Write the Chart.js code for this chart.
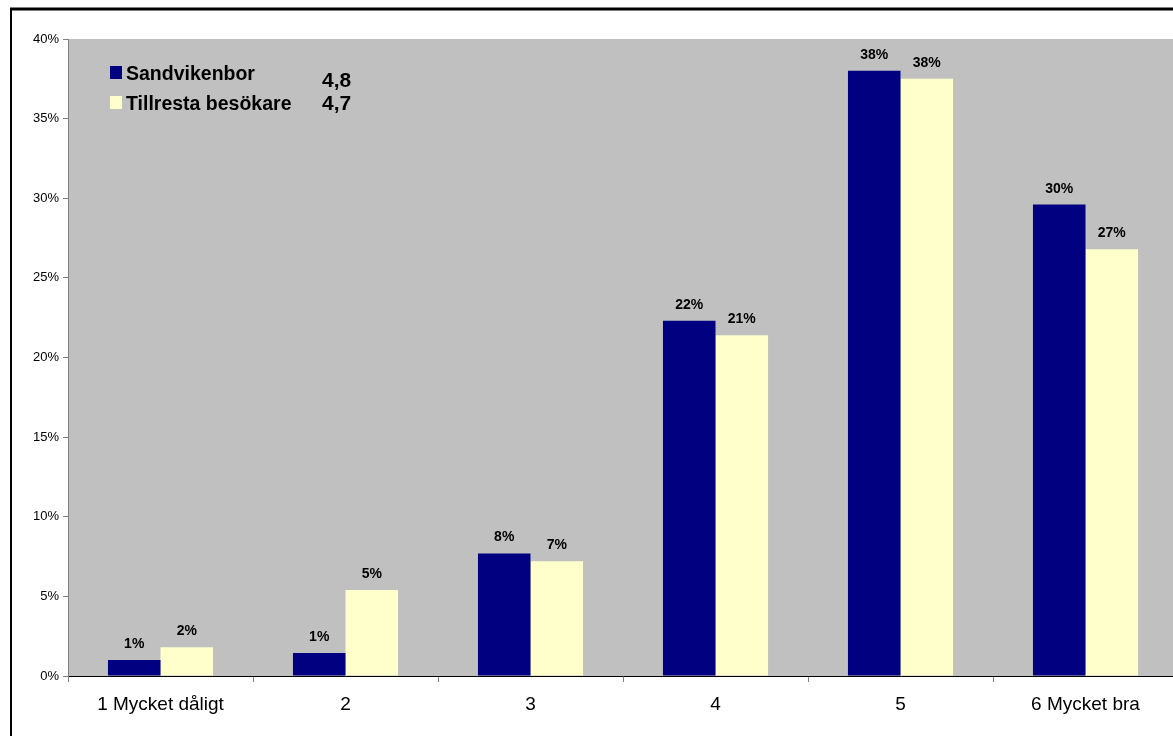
<!DOCTYPE html>
<html lang="sv">
<head>
<meta charset="utf-8">
<title>Sandvikenbor och tillresta besökare</title>
<script src="https://cdn.jsdelivr.net/npm/chart.js@4.4.1/dist/chart.umd.min.js"></script>
<style>
    html, body { margin: 0; padding: 0; background: #fff; overflow: hidden; }
    #wrap { position: absolute; left: 0; top: 0; width: 1178px; height: 736px; }
</style>
</head>
<body>
<div id="wrap"><canvas id="chart" width="1178" height="736"></canvas></div>
<script>
// Data (percent)
const categories = ['1 Mycket dåligt', '2', '3', '4', '5', '6 Mycket bra'];
const sandvikenbor = [1.0, 1.45, 7.7, 22.3, 38.0, 29.6];
const tillresta = [1.8, 5.4, 7.2, 21.4, 37.5, 26.8];
const seriesNames = ['Sandvikenbor', 'Tillresta besökare'];
const seriesMeans = ['4,8', '4,7'];
const yMax = 40;
const yStep = 5;

const FONT = '"Liberation Sans", Arial, sans-serif';

// gray plot background + outer frame
const frame = {
    id: 'frame',
    beforeDraw(chart) {
        const { ctx, chartArea: a } = chart;
        ctx.save();
        ctx.fillStyle = '#c0c0c0';
        ctx.fillRect(a.left, a.top, a.right - a.left, a.bottom - a.top);
        ctx.restore();
    },
    afterDraw(chart) {
        const { ctx, width, height } = chart;
        ctx.save();
        ctx.strokeStyle = '#000';
        ctx.lineWidth = 3;
        ctx.beginPath();
        ctx.moveTo(10, 9);
        ctx.lineTo(width, 9);
        ctx.stroke();
        ctx.lineWidth = 2;
        ctx.beginPath();
        ctx.moveTo(11, 9);
        ctx.lineTo(11, height);
        ctx.stroke();
        ctx.restore();
    }
};

// value labels above each bar
const barLabels = {
    id: 'barLabels',
    afterDatasetsDraw(chart) {
        const { ctx } = chart;
        ctx.save();
        ctx.font = 'bold 14px ' + FONT;
        ctx.fillStyle = '#000';
        ctx.textAlign = 'center';
        ctx.textBaseline = 'alphabetic';
        chart.data.datasets.forEach((ds, i) => {
            chart.getDatasetMeta(i).data.forEach((bar, j) => {
                ctx.fillText(Math.round(ds.data[j]) + '%', bar.x, bar.y - 12);
            });
        });
        ctx.restore();
    }
};

// legend inside the plot, with the mean value for each group
const meanLegend = {
    id: 'meanLegend',
    afterDraw(chart) {
        const { ctx, chartArea: a } = chart;
        ctx.save();
        chart.data.datasets.forEach((ds, i) => {
            const y = a.top + 27 + i * 30;
            ctx.fillStyle = ds.backgroundColor;
            ctx.fillRect(a.left + 42, y, 12, 13);
            ctx.fillStyle = '#000';
            ctx.textBaseline = 'alphabetic';
            ctx.textAlign = 'left';
            ctx.font = 'bold 19.5px ' + FONT;
            ctx.fillText(ds.label, a.left + 58, y + 14);
            ctx.font = 'bold 21px ' + FONT;
            ctx.fillText(seriesMeans[i], a.left + 254, y + 21 - i * 7);
        });
        ctx.restore();
    }
};

new Chart(document.getElementById('chart').getContext('2d'), {
    type: 'bar',
    data: {
        labels: categories,
        datasets: [
            { label: seriesNames[0], data: sandvikenbor, backgroundColor: '#000080' },
            { label: seriesNames[1], data: tillresta, backgroundColor: '#ffffcc' }
        ]
    },
    options: {
        responsive: false,
        animation: false,
        devicePixelRatio: 1,
        layout: { padding: { top: 39, left: 0, right: 0, bottom: 0 } },
        datasets: {
            bar: { categoryPercentage: 0.568, barPercentage: 1, borderWidth: 0 }
        },
        plugins: {
            legend: { display: false },
            tooltip: { enabled: false }
        },
        scales: {
            x: {
                grid: { drawOnChartArea: false, tickLength: 6, color: '#808080', offset: true },
                border: { color: '#000', width: 1 },
                ticks: { color: '#000', font: { family: FONT, size: 19 }, padding: 11, maxRotation: 0 },
                afterFit(scale) { scale.height = 60; }
            },
            y: {
                min: 0,
                max: yMax,
                grid: { drawOnChartArea: false, tickLength: 5, color: '#808080' },
                border: { color: '#808080', width: 1 },
                ticks: {
                    stepSize: yStep,
                    color: '#000',
                    font: { family: FONT, size: 13 },
                    padding: 4,
                    callback: v => v + '%'
                },
                afterFit(scale) { scale.width = 68; }
            }
        }
    },
    plugins: [frame, barLabels, meanLegend]
});
</script>
</body>
</html>
